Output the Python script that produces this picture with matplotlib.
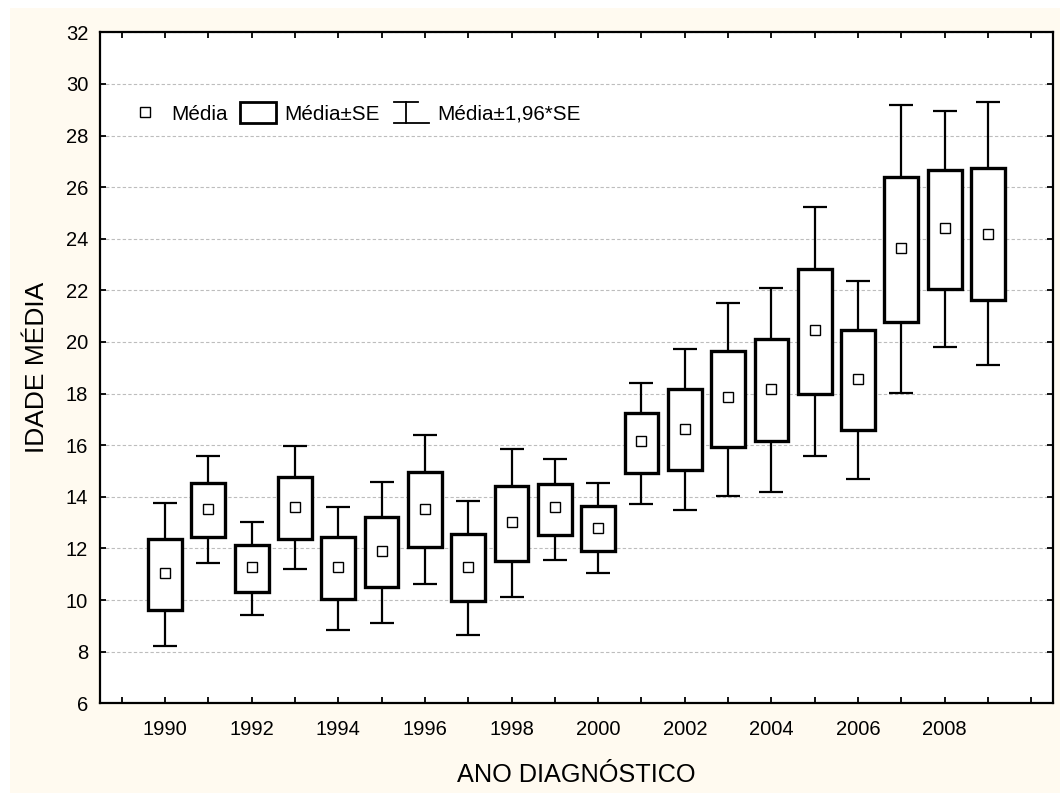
import matplotlib
matplotlib.use("Agg")
import matplotlib.pyplot as plt
from matplotlib.patches import Rectangle
from matplotlib.lines import Line2D
from matplotlib.legend_handler import HandlerBase

plt.rcParams['font.family'] = ['Liberation Sans', 'DejaVu Sans']

# ---- data ----
years = [1990, 1991, 1992, 1993, 1994, 1995, 1996, 1997, 1998, 1999,
         2000, 2001, 2002, 2003, 2004, 2005, 2006, 2007, 2008, 2009]
mean = [11.03, 13.52, 11.28, 13.59, 11.28, 11.90, 13.52, 11.28, 13.04, 13.59,
        12.81, 16.15, 16.62, 17.85, 18.16, 20.48, 18.55, 23.66, 24.43, 24.20]
se_lo = [9.60, 12.46, 10.33, 12.38, 10.04, 10.49, 12.07, 9.95, 11.52, 12.54,
         11.92, 14.91, 15.04, 15.92, 16.17, 17.97, 16.60, 20.79, 22.05, 21.62]
se_hi = [12.36, 14.55, 12.13, 14.77, 12.43, 13.22, 14.96, 12.57, 14.42, 14.50,
         13.63, 17.23, 18.16, 19.64, 20.13, 22.84, 20.46, 26.41, 26.67, 26.75]
ci_lo = [8.21, 11.42, 9.42, 11.20, 8.84, 9.11, 10.62, 8.66, 10.13, 11.57,
         11.03, 13.74, 13.48, 14.04, 14.20, 15.59, 14.68, 18.01, 19.79, 19.09]
ci_hi = [13.78, 15.59, 13.04, 15.97, 13.62, 14.57, 16.38, 13.85, 15.85, 15.48,
         14.54, 18.43, 19.71, 21.51, 22.08, 25.23, 22.36, 29.17, 28.95, 29.28]
tick_years = list(range(1989, 2011))
tick_labels = [str(y) if (y % 2 == 0 and 1990 <= y <= 2008) else '' for y in tick_years]
y_ticks = list(range(6, 33, 2))
legend_labels = ['Média', 'Média±SE', 'Média±1,96*SE']

# ---- figure ----
fig = plt.figure(figsize=(10.6, 7.93), dpi=100)
fig.patch.set_facecolor('white')
fig.add_artist(Rectangle((10 / 1060, 0), 1 - 10 / 1060, (793 - 8) / 793,
                         transform=fig.transFigure, facecolor='#FFFAF0',
                         edgecolor='none', zorder=-10))
ax = fig.add_axes([100 / 1060, (793 - 703.3) / 793, 953 / 1060, 671 / 793])
ax.set_facecolor('white')

lower = [m - l for m, l in zip(mean, ci_lo)]
upper = [h - m for m, h in zip(mean, ci_hi)]
ax.errorbar(years, mean, yerr=[lower, upper], fmt='none', ecolor='black',
            elinewidth=1.6, capsize=8.5, capthick=1.6, zorder=2)
heights = [h - l for h, l in zip(se_hi, se_lo)]
ax.bar(years, heights, bottom=se_lo, width=0.78, facecolor='white',
       edgecolor='black', linewidth=2.4, zorder=3)
ax.plot(years, mean, ls='none', marker='s', ms=6.5, mfc='white',
        mec='black', mew=1.0, zorder=4)

ax.set_xlim(1988.5, 2010.5)
ax.set_ylim(6, 32)
ax.set_xticks(tick_years)
ax.set_xticklabels(tick_labels)
ax.set_yticks(y_ticks)
ax.tick_params(axis='both', direction='in', length=4, width=1.3,
               top=True, right=True, labelsize=14.5, colors='black')
ax.tick_params(axis='x', pad=12)
ax.tick_params(axis='y', pad=8.5)
for s in ax.spines.values():
    s.set_linewidth(1.6)
ax.yaxis.grid(True, linestyle=(0, (3, 2)), color='#bdbdbd', linewidth=0.8)
ax.set_axisbelow(True)

ax.set_xlabel('ANO DIAGNÓSTICO', fontsize=18.2)
ax.xaxis.label.set_va('center')
ax.xaxis.set_label_coords(0.5, -0.107)
ax.set_ylabel('IDADE MÉDIA', fontsize=19)
ax.yaxis.label.set_va('center')
ax.yaxis.set_label_coords(-0.066, 0.5)


# ---- legend ----
class HandlerBox(HandlerBase):
    def create_artists(self, legend, orig_handle, xdescent, ydescent,
                       width, height, fontsize, trans):
        h = height * 1.5
        r = Rectangle((-xdescent, -ydescent + height / 2 - h / 2), width, h,
                      facecolor='white', edgecolor='black', lw=2.0,
                      transform=trans)
        return [r]


class HandlerWhisker(HandlerBase):
    def create_artists(self, legend, orig_handle, xdescent, ydescent,
                       width, height, fontsize, trans):
        h = height * 1.5
        y0 = -ydescent + height / 2 - h / 2
        y1 = y0 + h
        x0 = -xdescent + width * 0.05
        xm = x0 + width * 0.33
        top = Line2D([x0, x0 + width * 0.66], [y1, y1], color='black', lw=1.3, transform=trans)
        vert = Line2D([xm, xm], [y0, y1], color='black', lw=1.3, transform=trans)
        bot = Line2D([x0, x0 + width * 0.95], [y0, y0], color='black', lw=1.3, transform=trans)
        return [top, vert, bot]


class BoxKey:
    pass


class WhiskerKey:
    pass


h_mean = Line2D([], [], ls='none', marker='s', ms=6.5, mfc='white', mec='black', mew=1.0)
h_box = BoxKey()
h_wh = WhiskerKey()
ax.legend([h_mean, h_box, h_wh], legend_labels,
          handler_map={BoxKey: HandlerBox(), WhiskerKey: HandlerWhisker()},
          loc='center left', bbox_to_anchor=(0.028, 0.878), ncol=3,
          frameon=False, fontsize=14.9, handlelength=1.75, handletextpad=0.4,
          columnspacing=0.6, borderpad=0, borderaxespad=0)

fig.savefig('out.png', dpi=100)
